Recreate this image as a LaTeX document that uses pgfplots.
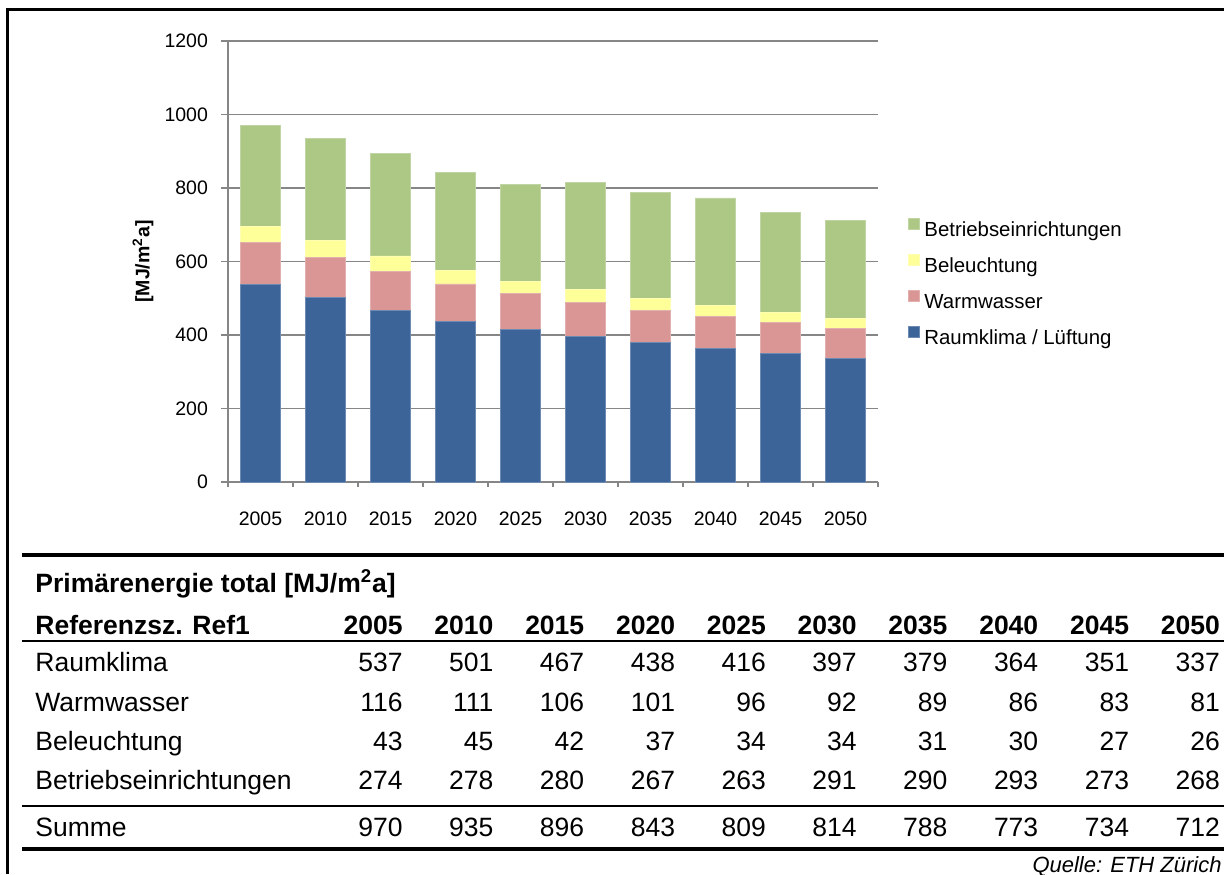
\documentclass[border=0pt]{standalone}
\usepackage{fontspec}
\setmainfont{Liberation Sans}
\usepackage{pgfplots}
\usepackage{pgfplotstable}
\pgfplotsset{compat=1.18}
\definecolor{raum}{RGB}{61,100,152}
\definecolor{warm}{RGB}{217,150,148}
\definecolor{bel}{RGB}{255,255,153}
\definecolor{betr}{RGB}{173,199,133}
\definecolor{gridc}{RGB}{134,134,134}
\newcommand\cf{\fontsize{9.75}{11.7}\selectfont}
\newcommand\lf{\fontsize{10.2}{12.2}\selectfont}
\newcommand\tf{\fontsize{13.25}{15.9}\selectfont}
\pgfplotstableread{
x year raum warm bel betr sum
0 2005 537 116 43 274 970
1 2010 501 111 45 278 935
2 2015 467 106 42 280 896
3 2020 438 101 37 267 843
4 2025 416 96 34 263 809
5 2030 397 92 34 291 814
6 2035 379 89 31 290 788
7 2040 364 86 30 293 773
8 2045 351 83 27 273 734
9 2050 337 81 26 268 712
}\data
\begin{document}
\begin{tikzpicture}[x=0.5pt,y=0.5pt]
\path[use as bounding box] (0,0) rectangle (1224,874);
% frame
\draw[line width=1.5pt] (7.5,0) -- (7.5,864) -- (1224,864);
\begin{axis}[
  at={(114pt,196pt)}, anchor=south west, scale only axis,
  width=325pt, height=220.5pt,
  xmin=-0.5, xmax=9.5, ymin=0, ymax=1200,
  ybar stacked, bar width=20pt,
  axis lines*=left, axis line style={-, gridc, line width=0.75pt},
  xtick={0,...,9},
  xticklabels={2005,2010,2015,2020,2025,2030,2035,2040,2045,2050},
  minor xtick={-0.5,0.5,...,9.5},
  ytick={0,200,...,1200},
  ymajorgrids, grid style={gridc, line width=0.75pt},
  tick align=outside, major tick length=3.5pt, minor tick length=2.5pt,
  tick style={gridc, line width=0.75pt},
  every major x tick/.append style={draw=none},
  tick label style={font=\cf},
  /pgf/number format/assume math mode=true,
  /pgf/number format/1000 sep={},
  xticklabel shift=8pt,
  yticklabel shift=3pt,
  ylabel={[MJ/m\textsuperscript{2}a]},
  ylabel style={font=\cf\bfseries, at={(axis description cs:-0.1308,0.5)}, anchor=center},
  reverse legend,
  legend cell align=left,
  legend image code/.code={\fill[#1] (0pt,0.75pt) rectangle (5.5pt,6.25pt);},
  legend style={draw=none, fill=none, at={(1,0.451)}, anchor=west, xshift=15pt, yshift=-1pt,
    inner sep=0pt, row sep=5pt,
    nodes={inner xsep=2.1pt, inner ysep=2pt, text height=7pt, text depth=2pt, font=\lf}},
]
\addplot[fill=raum, draw=raum!75!white, line width=0.4pt] table[x=x,y=raum]{\data};
\addlegendentry{Raumklima / Lüftung}
\addplot[fill=warm, draw=warm!75!white, line width=0.4pt] table[x=x,y=warm]{\data};
\addlegendentry{Warmwasser}
\addplot[fill=bel, draw=bel!75!white, line width=0.4pt] table[x=x,y=bel]{\data};
\addlegendentry{Beleuchtung}
\addplot[fill=betr, draw=betr!75!white, line width=0.4pt] table[x=x,y=betr]{\data};
\addlegendentry{Betriebseinrichtungen}
\end{axis}
% table
\draw[line width=2pt] (22,319) -- (1224,319);
\draw[line width=1pt] (22,233) -- (1224,233);
\draw[line width=1pt] (22,68) -- (1224,68);
\draw[line width=2.25pt] (22,25) -- (1224,25);
\node[anchor=base west, inner sep=0pt, font=\tf\bfseries] at (35,281.5) {Primärenergie total [MJ/m\textsuperscript{2}a]};
\node[anchor=base west, inner sep=0pt, font=\tf\bfseries] at (35,239.5) {Referenzsz. Ref1};
\node[anchor=base west, inner sep=0pt, font=\tf] at (35,202.5) {Raumklima};
\node[anchor=base west, inner sep=0pt, font=\tf] at (35,162.5) {Warmwasser};
\node[anchor=base west, inner sep=0pt, font=\tf] at (35,123.5) {Beleuchtung};
\node[anchor=base west, inner sep=0pt, font=\tf] at (35,84.5) {Betriebseinrichtungen};
\node[anchor=base west, inner sep=0pt, font=\tf] at (35,37.5) {Summe};
\foreach \i in {0,...,9}{
  \pgfmathsetmacro\xr{403+90.8*\i}
  \pgfplotstablegetelem{\i}{year}\of\data
  \node[anchor=base east, inner sep=0pt, font=\tf\bfseries] at (\xr,239.5) {\pgfplotsretval};
  \pgfplotstablegetelem{\i}{raum}\of\data
  \node[anchor=base east, inner sep=0pt, font=\tf] at (\xr,202.5) {\pgfplotsretval};
  \pgfplotstablegetelem{\i}{warm}\of\data
  \node[anchor=base east, inner sep=0pt, font=\tf] at (\xr,162.5) {\pgfplotsretval};
  \pgfplotstablegetelem{\i}{bel}\of\data
  \node[anchor=base east, inner sep=0pt, font=\tf] at (\xr,123.5) {\pgfplotsretval};
  \pgfplotstablegetelem{\i}{betr}\of\data
  \node[anchor=base east, inner sep=0pt, font=\tf] at (\xr,84.5) {\pgfplotsretval};
  \pgfplotstablegetelem{\i}{sum}\of\data
  \node[anchor=base east, inner sep=0pt, font=\tf] at (\xr,37.5) {\pgfplotsretval};
}
\node[anchor=base east, inner sep=0pt, font=\fontsize{11}{13}\selectfont\itshape] at (1222,2) {Quelle: ETH Zürich};
\end{tikzpicture}
\end{document}
